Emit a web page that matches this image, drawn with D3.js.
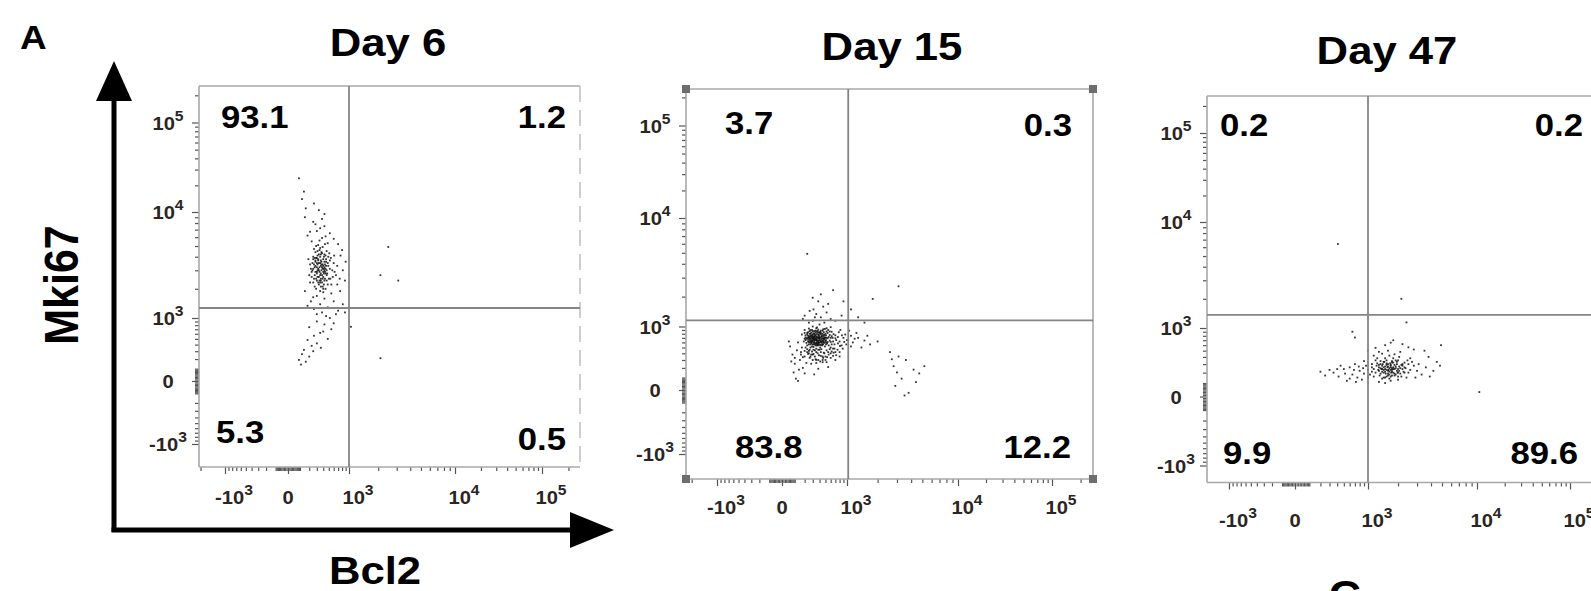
<!DOCTYPE html>
<html><head><meta charset="utf-8">
<script src="https://cdn.jsdelivr.net/npm/d3@7"></script>
<style>body{margin:0;background:#fff;}svg{display:block;}</style>
</head><body>
<svg id="chart" width="1591" height="591"></svg>
<script>
// ---------------- DATA ----------------
const panelTitles = ["Day 6", "Day 15", "Day 47"];
const quadUL = ["93.1", "3.7", "0.2"];
const quadUR = ["1.2", "0.3", "0.2"];
const quadLL = ["5.3", "83.8", "9.9"];
const quadLR = ["0.5", "12.2", "89.6"];
const gateBcl2 = [1000, 1030, 1000];
const gateMki67 = [1280, 1160, 1380];
const majorTicks = [-1000, 0, 1000, 10000, 100000];
const tickBase = ["-10", "0", "10", "10", "10"];
const tickSup = ["3", "", "3", "4", "5"];
const xAxisTitle = "Bcl2";
const yAxisTitle = "Mki67";
const panelLetter = "A";

// [Bcl2, Mki67] events
const day6 = [
[320,3100],[410,2800],[280,3600],[500,2500],[360,4200],[230,2900],[450,3300],[390,2100],[300,2400],[540,3900],
[260,4700],[430,5200],[350,3500],[480,2200],[210,3400],[620,2900],[330,2600],[400,3800],[290,2000],[370,3000],
[520,3100],[250,2300],[460,4500],[340,5600],[190,3800],[580,2600],[310,4100],[420,2400],[270,3200],[390,3400],
[350,2700],[600,3500],[440,2000],[230,2600],[510,4300],[320,3700],[380,2300],[290,5000],[470,2800],[360,3300],
[250,4000],[550,2200],[410,3100],[300,2800],[340,4600],[450,3600],[270,2100],[380,5900],[490,3300],[220,3100],
[400,2600],[330,2200],[610,4100],[280,4400],[430,2900],[360,2500],[200,2700],[520,3700],[310,3400],[390,4900],
[460,2400],[240,3500],[350,1900],[570,3000],[300,3900],[420,4200],[260,2500],[480,5300],[330,3000],[400,2000],
[650,2700],[280,3300],[370,4400],[440,3100],[210,2300],[530,2500],[320,5100],[360,2100],[490,4000],[250,3800],
[380,3200],[300,2900],[420,3600],[340,2400],[460,2700],[270,3900],[390,2500],[350,4000],[310,3000],[430,3400],
[340,3200],[380,2700],[300,3500],[420,3000],[360,2400],[280,2900],[450,3800],[330,4200],[400,3300],[250,3100],
[370,3600],[310,2600],[440,2800],[290,3900],[350,2300],[410,4000],[270,2700],[390,3100],[320,3800],[460,3000],
[360,3700],[300,3200],[430,2500],[340,2900],[380,4300],[260,3400],[410,2200],[330,3500],[350,4800],[290,2500],
[400,2900],[370,3400],[240,3000],[480,3500],[320,2300],[440,4100],[280,3700],[360,2800],[310,4500],[420,3200],
[180,6200],[300,6800],[420,7500],[250,8200],[520,6500],[350,7200],[150,9000],[440,6100],[280,7800],[600,5800],
[380,8700],[210,6700],[160,11000],[330,10500],[120,14000],[260,12500],[90,24000],[140,17000],[420,9600],[230,5500],
[700,5200],[760,4100],[680,3300],[820,3000],[740,2500],[900,3600],[800,4600],[680,2200],[750,1900],[880,2400],
[300,1700],[420,1600],[220,1500],[550,1800],[350,1400],[480,1300],[260,1250],[600,1500],[380,1150],[700,1200],
[180,1350],[450,1050],[300,1100],[520,1000],[650,1100],[820,1400],[250,1650],[400,1850],[150,1900],[880,1150],
[300,900],[420,820],[200,750],[550,700],[350,620],[260,560],[180,480],[480,500],[300,420],[230,380],
[140,320],[120,260],[200,230],[90,190],[160,170],[250,300],[110,140],[360,350],[600,850],[400,650],
[2500,4900],[2100,2700],[3100,2400],[2100,210],[1050,760]
];
const day15 = [
[400,650],[320,720],[510,600],[260,800],[450,880],[380,540],[600,700],[290,610],[350,950],[470,760],
[220,680],[540,820],[410,500],[300,860],[650,620],[370,700],[250,560],[480,670],[330,780],[560,540],
[200,900],[430,620],[310,510],[700,760],[390,830],[280,700],[520,950],[360,600],[240,750],[450,560],
[620,850],[340,660],[270,900],[500,710],[420,790],[190,620],[580,640],[350,480],[300,1000],[460,600],
[230,820],[680,560],[400,740],[320,590],[550,900],[260,650],[490,520],[370,870],[210,710],[440,690],
[600,980],[330,560],[280,830],[510,760],[380,630],[170,780],[720,650],[420,550],[300,680],[540,610],
[250,940],[470,840],[360,720],[640,700],[220,590],[400,1050],[330,740],[580,770],[290,520],[450,640],
[200,680],[520,860],[380,580],[310,810],[760,580],[430,730],[270,620],[490,930],[350,660],[600,610],
[410,700],[350,640],[480,590],[290,760],[540,690],[380,910],[230,540],[450,800],[320,630],[660,790],
[400,600],[260,870],[510,650],[370,560],[300,720],[560,720],[420,880],[240,660],[470,630],[340,830],
[620,560],[390,680],[280,580],[500,800],[360,970],[210,760],[440,540],[580,860],[320,690],[700,690],
[400,820],[270,740],[530,580],[350,600],[460,920],[300,640],[620,740],[380,760],[250,610],[490,700],
[330,700],[280,650],[360,790],[250,720],[310,600],[240,840],[290,900],[340,540],[210,650],[370,640],
[300,780],[260,600],[230,700],[320,870],[270,560],[390,720],[200,820],[350,860],[280,760],[310,670],
[360,650],[420,610],[300,700],[470,680],[340,580],[390,770],[270,690],[440,730],[320,800],[500,630],
[370,560],[250,700],[410,850],[290,640],[460,560],[350,730],[230,780],[520,700],[380,610],[310,740],
[430,660],[280,610],[400,690],[340,880],[480,770],[260,740],[360,540],[450,620],[300,560],[420,820],
[330,670],[390,590],[270,800],[510,560],[350,690],[240,620],[440,760],[310,560],[470,720],[370,830],
[410,640],[290,720],[350,570],[460,680],[320,650],[380,700],[260,680],[430,590],[340,760],[400,550],
[350,420],[280,380],[450,350],[520,450],[230,470],[600,330],[380,300],[310,460],[700,420],[260,330],
[480,400],[200,440],[560,380],[330,350],[410,280],[650,360],[290,430],[750,460],[370,400],[240,390],
[500,300],[430,470],[160,380],[800,420],[340,310],[580,470],[270,500],[460,330],[620,430],[390,370],
[180,340],[520,270],[300,300],[680,480],[420,360],[250,440],[550,420],[350,260],[720,370],[210,500],
[330,450],[470,410],[270,350],[600,500],[380,460],[450,300],[230,420],[530,340],[310,390],[660,410],
[800,620],[900,700],[850,540],[1000,650],[1150,600],[780,840],[950,780],[1300,700],[880,480],[1100,520],
[1500,640],[820,900],[1250,820],[1700,560],[920,610],[760,720],[1050,880],[1400,500],[2000,620],[860,760],
[1200,680],[980,560],[1600,750],[810,530],[1100,750],
[300,1150],[420,1250],[250,1100],[520,1400],[350,1350],[600,1200],[200,1300],[460,1600],[310,1500],[700,1150],
[380,1800],[550,1700],[260,1450],[850,1300],[1100,1500],[420,2100],[300,1950],[650,2300],[1300,1250],[180,1200],
[900,1800],[480,1100],[330,1250],
[120,450],[80,380],[150,300],[60,520],[100,250],[180,200],[130,600],[90,150],[200,350],[70,280],
[160,420],[110,90],[220,260],[140,180],[50,620],[170,500],[100,330],[250,400],[130,70],[200,140],
[300,380],[350,300],[420,420],[280,250],[500,350],[380,190],[600,400],[450,270],[700,300],[320,130],
[550,210],[800,350],[260,460],[400,460],[650,480],
[2600,420],[3100,350],[2800,220],[3600,300],[4200,180],[3300,90],[2900,30],[4700,140],[3800,-20],[4400,60],
[3000,150],[2700,310],[5200,220],[3500,-40],
[230,4900],[3100,2500],[1800,1900],[1500,1100]
];
const day47 = [
[1600,220],[1300,260],[1900,180],[1100,300],[2200,240],[1450,150],[1750,320],[1200,200],[2500,200],[1500,380],
[1000,230],[2000,130],[1350,340],[1800,260],[2800,280],[1150,160],[1650,420],[2300,320],[1400,210],[950,280],
[2100,190],[1700,120],[1250,380],[3000,220],[1550,290],[1850,440],[1050,180],[2400,150],[1450,260],[2000,350],
[1300,110],[2700,330],[1600,170],[900,340],[2200,280],[1750,230],[1150,420],[3300,180],[1500,240],[1950,300],
[1350,190],[2600,380],[1650,140],[1100,260],[2100,480],[1800,200],[1250,310],[3600,260],[1550,350],[2300,200],
[1400,450],[2900,150],[1700,280],[1000,150],[2000,240],[1500,100],[2500,300],[1200,350],[1850,170],[1600,500],
[1380,240],[1720,200],[2050,270],[1280,230],[1900,350],[1520,190],[2350,250],[1150,240],[1680,310],[2150,160],
[1420,300],[1800,380],[1320,170],[2600,230],[1580,260],[1980,200],[1230,280],[2450,350],[1700,160],[1470,330],
[2250,210],[1100,210],[1850,290],[1620,230],[2050,400],[1400,140],[3100,300],[1750,250],[1300,290],[2000,160],
[1550,230],[1700,260],[1450,200],[1850,240],[1600,300],[1350,250],[1950,220],[1650,180],[1500,270],[2100,250],
[1750,210],[1400,280],[1800,320],[1550,160],[1900,270],[1300,220],[2200,300],[1650,250],[1450,330],[2000,200],
[1600,270],[1750,340],[1500,210],[1850,190],[1700,230],[2300,260],[1400,240],[1950,330],[1550,310],[1650,210],
[1800,240],[1350,300],[2050,220],[1500,150],[1700,290],[1600,190],[1900,250],[1450,230],[2150,290],[1750,170],
[800,220],[650,180],[500,240],[700,300],[420,160],[850,130],[600,260],[350,200],[750,150],[550,120],
[300,230],[900,190],[450,280],[680,230],[250,170],[780,270],[520,190],[400,240],[600,140],[880,250],
[200,210],[720,110],
[1500,600],[1200,550],[2200,620],[1800,700],[3800,400],[4500,330],[4200,220],[3500,500],[2800,520],[3900,160],
[1700,650],[1300,480],[2500,560],[4800,280],[1000,500],
[410,6400],[2150,2000],[2400,1150],[4900,600],[10600,30],[700,760],[650,900]
];
const panelData = [day6, day15, day47];

// ---------------- LAYOUT ----------------
const layout = [
  {x0:199, x1:580, y0:86, y1:467, xt:[225,288,349,455,542], yt:[444,381,318,212,122.5], xlab:504,
   title:[388,56], ul:[221,128], ur:[566,128], ll:[216,443], lr:[566,450], corners:false, dashRight:true},
  {x0:686, x1:1093, y0:89, y1:479, xt:[717,782,847,958,1052], yt:[454,390,326.5,218,125.5], xlab:514,
   title:[892,60], ul:[725,134], ur:[1072,136], ll:[735,458], lr:[1071,458], corners:true, dashRight:false},
  {x0:1207, x1:1615, y0:96, y1:482.5, xt:[1229,1295,1368,1477,1570], yt:[465.5,396.5,328,222,133], xlab:527,
   title:[1387,64], ul:[1220,136], ur:[1583,136], ll:[1223,464], lr:[1578,464], corners:false, dashRight:false}
];
const SX = 1.12;  // horizontal stretch of the source lettering
const FONT = "'Liberation Sans', Arial, Helvetica, sans-serif";
const TICK_FS = 18, SUP_FS = 14;

const svg = d3.select("#chart");
const defs = svg.append("defs");

function stretchedText(g, x, y, str, size, anchor, rot) {
  return g.append("text")
    .attr("transform", `translate(${x},${y}) scale(${SX},1)` + (rot ? ` rotate(${rot})` : ""))
    .attr("text-anchor", anchor || "start")
    .attr("font-family", FONT).attr("font-weight", "bold")
    .attr("font-size", size).attr("fill", "#000").text(str);
}

// minor ticks
const minor = [];
for (let k = 1; k <= 9; k++) { minor.push(k*10, -k*10, k*100, -k*100); }
for (let k = 2; k <= 9; k++) { minor.push(k*1000, k*10000, -k*1000); }
minor.push(200000);

layout.forEach((L, i) => {
  const g = svg.append("g");
  const x = d3.scaleSymlog().constant(300).domain(majorTicks).range(L.xt);
  const y = d3.scaleSymlog().constant(300).domain(majorTicks).range(L.yt);

  defs.append("clipPath").attr("id", "clip" + i)
    .append("rect").attr("x", L.x0).attr("y", L.y0).attr("width", L.x1 - L.x0).attr("height", L.y1 - L.y0);

  // ticks
  const inX = minor.filter(v => x(v) > L.x0 + 1 && x(v) < L.x1 - 1);
  const inY = minor.filter(v => y(v) > L.y0 + 1 && y(v) < L.y1 - 1);
  const ax1 = g.append("g").attr("transform", `translate(0,${L.y1})`)
    .call(d3.axisBottom(x).tickValues(inX).tickSize(4).tickFormat(""));
  const ax2 = g.append("g").attr("transform", `translate(0,${L.y1})`)
    .call(d3.axisBottom(x).tickValues(majorTicks.filter(v => x(v) < L.x1)).tickSize(7).tickFormat(""));
  const ay1 = g.append("g").attr("transform", `translate(${L.x0},0)`)
    .call(d3.axisLeft(y).tickValues(inY).tickSize(4).tickFormat(""));
  const ay2 = g.append("g").attr("transform", `translate(${L.x0},0)`)
    .call(d3.axisLeft(y).tickValues(majorTicks).tickSize(7).tickFormat(""));
  [ax1, ax2, ay1, ay2].forEach(a => {
    a.select(".domain").remove();
    a.selectAll("line").attr("stroke", "#555").attr("stroke-width", 1.2);
  });

  // tick labels
  majorTicks.forEach((v, j) => {
    const tx = g.append("text")
      .attr("transform", `translate(${x(v) + (tickSup[j] ? 9 : 0)},${L.xlab}) scale(${SX},1)`)
      .attr("text-anchor", "middle").attr("font-family", FONT).attr("font-weight", "bold")
      .attr("font-size", TICK_FS).attr("fill", "#2a2522");
    tx.append("tspan").text(tickBase[j]);
    if (tickSup[j]) tx.append("tspan").attr("dy", -9).attr("font-size", SUP_FS).text(tickSup[j]);
    const ty = g.append("text")
      .attr("transform", `translate(${L.x0 - 31},${y(v) + 7}) scale(${SX},1)`)
      .attr("text-anchor", "middle").attr("font-family", FONT).attr("font-weight", "bold")
      .attr("font-size", TICK_FS).attr("fill", "#2a2522");
    ty.append("tspan").text(tickBase[j]);
    if (tickSup[j]) ty.append("tspan").attr("dy", -9).attr("font-size", SUP_FS).text(tickSup[j]);
  });

  // frame
  const fr = g.append("g").attr("fill", "none").attr("stroke", "#a8a8a8").attr("stroke-width", 1.6);
  fr.append("line").attr("x1", L.x0).attr("x2", L.x1).attr("y1", L.y0).attr("y2", L.y0);
  fr.append("line").attr("x1", L.x0).attr("x2", L.x1).attr("y1", L.y1).attr("y2", L.y1);
  fr.append("line").attr("x1", L.x0).attr("x2", L.x0).attr("y1", L.y0).attr("y2", L.y1);
  fr.append("line").attr("x1", L.x1).attr("x2", L.x1).attr("y1", L.y0).attr("y2", L.y1)
    .attr("stroke", L.dashRight ? "#c4c4c4" : "#a8a8a8")
    .attr("stroke-dasharray", L.dashRight ? "16,8" : null);
  if (L.corners) {
    [[L.x0, L.y0], [L.x1, L.y0], [L.x0, L.y1], [L.x1, L.y1]].forEach(c => {
      g.append("rect").attr("x", c[0] - 4).attr("y", c[1] - 4).attr("width", 8).attr("height", 8).attr("fill", "#6d6d6d");
    });
  }

  // events
  g.append("g").attr("clip-path", `url(#clip${i})`)
    .selectAll("rect").data(panelData[i]).join("rect")
    .attr("x", d => x(d[0]) - 0.9).attr("y", d => y(d[1]) - 0.9)
    .attr("width", 1.8).attr("height", 1.8)
    .attr("fill", "#111").attr("opacity", 0.85);

  // quadrant gates
  const gc = g.append("g").attr("clip-path", `url(#clip${i})`);
  gc.append("line").attr("x1", x(gateBcl2[i])).attr("x2", x(gateBcl2[i]))
    .attr("y1", L.y0).attr("y2", L.y1).attr("stroke", "#858585").attr("stroke-width", 1.8);
  gc.append("line").attr("x1", L.x0).attr("x2", L.x1)
    .attr("y1", y(gateMki67[i])).attr("y2", y(gateMki67[i])).attr("stroke", "#858585").attr("stroke-width", 1.8);

  // quadrant percentages
  stretchedText(g, L.ul[0], L.ul[1], quadUL[i], 31, "start");
  stretchedText(g, L.ur[0], L.ur[1], quadUR[i], 31, "end");
  stretchedText(g, L.ll[0], L.ll[1], quadLL[i], 31, "start");
  stretchedText(g, L.lr[0], L.lr[1], quadLR[i], 31, "end");

  // title
  stretchedText(g, L.title[0], L.title[1], panelTitles[i], 39, "middle");
});

// big axis arrows
const ag = svg.append("g");
ag.append("line").attr("x1", 114).attr("y1", 532).attr("x2", 114).attr("y2", 96)
  .attr("stroke", "#000").attr("stroke-width", 5);
ag.append("polygon").attr("points", "96,101 114,61 132,101").attr("fill", "#000");
ag.append("line").attr("x1", 111.5).attr("y1", 530).attr("x2", 575).attr("y2", 530)
  .attr("stroke", "#000").attr("stroke-width", 5);
ag.append("polygon").attr("points", "570,512 614,530 570,548").attr("fill", "#000");

stretchedText(svg, 375, 584, xAxisTitle, 39, "middle");
stretchedText(svg, 78, 285, yAxisTitle, 43, "middle", -90);
stretchedText(svg, 20, 49, panelLetter, 33, "start");
stretchedText(svg, 1345, 609, "C", 40, "middle");
</script>
</body></html>
